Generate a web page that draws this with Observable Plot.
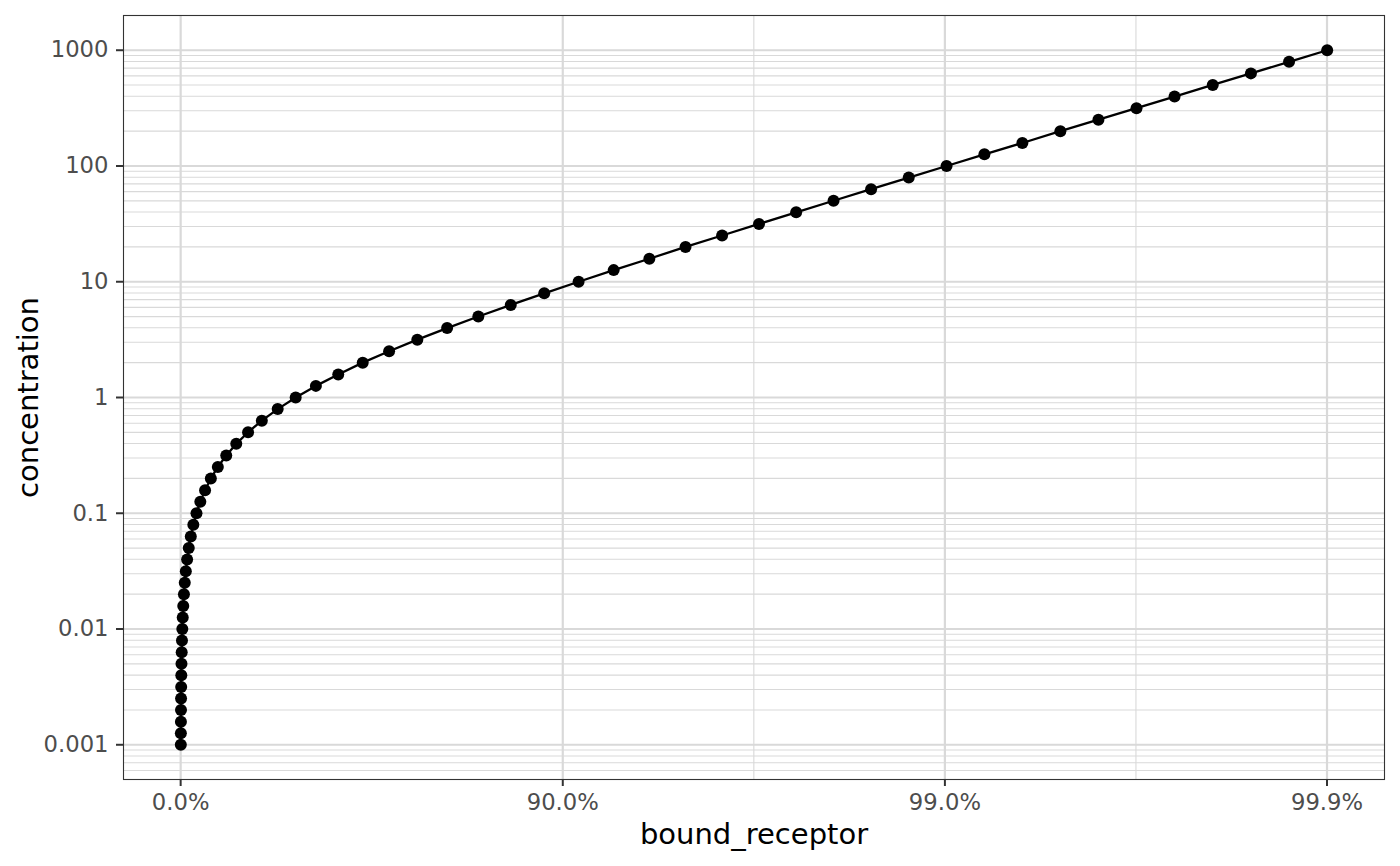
<!DOCTYPE html>
<html>
<head>
<meta charset="utf-8">
<script src="https://cdn.jsdelivr.net/npm/d3@7"></script>
<script src="https://cdn.jsdelivr.net/npm/@observablehq/plot@0.6"></script>
<style>
  body { margin: 0; background: #ffffff; }
  #chart { width: 1400px; height: 866px; }
</style>
</head>
<body>
<div id="chart"></div>
<script>
/* global d3, Plot */

// concentration steps (log spaced, 10 per decade)
const concentration = [
  0.001, 0.00126, 0.00158, 0.002, 0.00251, 0.00316, 0.00398, 0.00501, 0.00631, 0.00794,
  0.01, 0.0126, 0.0158, 0.02, 0.0251, 0.0316, 0.0398, 0.0501, 0.0631, 0.0794,
  0.1, 0.126, 0.158, 0.2, 0.251, 0.316, 0.398, 0.501, 0.631, 0.794,
  1, 1.26, 1.58, 2, 2.51, 3.16, 3.98, 5.01, 6.31, 7.94,
  10, 12.6, 15.8, 20, 25.1, 31.6, 39.8, 50.1, 63.1, 79.4,
  100, 126, 158, 200, 251, 316, 398, 501, 631, 794,
  1000
];

// fraction of bound receptor at each concentration
const boundReceptor = [
  0.000999, 0.001257, 0.001582, 0.001991, 0.002506, 0.003152, 0.003965, 0.004987, 0.006270, 0.007881,
  0.009901, 0.012433, 0.015602, 0.019562, 0.024503, 0.030654, 0.038287, 0.047727, 0.059351, 0.073588,
  0.090909, 0.111816, 0.136807, 0.166338, 0.200759, 0.240253, 0.284744, 0.333860, 0.386863, 0.442688,
  0.5, 0.557312, 0.613137, 0.666140, 0.715256, 0.759747, 0.799241, 0.833662, 0.863193, 0.888184,
  0.909091, 0.926412, 0.940649, 0.952273, 0.961713, 0.969346, 0.975497, 0.980438, 0.984398, 0.987567,
  0.990099, 0.992119, 0.993730, 0.995013, 0.996035, 0.996848, 0.997494, 0.998009, 0.998418, 0.998743,
  0.999001
];

// axis breaks and their labels
const xTickValues = [0, 0.9, 0.99, 0.999];
const xTickLabels = ['0.0%', '90.0%', '99.0%', '99.9%'];
const yTickValues = [0.001, 0.01, 0.1, 1, 10, 100, 1000];
const yTickLabels = ['0.001', '0.01', '0.1', '1', '10', '100', '1000'];

// occupancy axis: -log10(1 - p), so 90%, 99%, 99.9% are evenly spaced
const occ = p => -Math.log10(1 - p);

const table = concentration.map((c, i) => ({ concentration: c, bound: boundReceptor[i] }));

// ggplot-style 5% expansion of the data range
const xExt = d3.extent(boundReceptor, occ);
const xPad = (xExt[1] - xExt[0]) * 0.05;
const yExt = d3.extent(concentration, Math.log10);
const yPad = (yExt[1] - yExt[0]) * 0.05;

const xTicks = xTickValues.map(occ);
const xMinor = [1.5, 2.5];
const yMinor = [];
for (let e = -4; e <= 3; e++) {
  for (let m = 2; m <= 9; m++) {
    const v = m * Math.pow(10, e);
    if (Math.log10(v) > yExt[0] - yPad && Math.log10(v) < yExt[1] + yPad) yMinor.push(v);
  }
}

const gridColor = '#d9d9d9';

const chart = Plot.plot({
  width: 1400,
  height: 866,
  marginLeft: 123,
  marginRight: 16,
  marginTop: 15,
  marginBottom: 87,
  style: { fontFamily: 'DejaVu Sans', background: '#ffffff' },
  x: { type: 'linear', domain: [xExt[0] - xPad, xExt[1] + xPad] },
  y: { type: 'log', domain: [Math.pow(10, yExt[0] - yPad), Math.pow(10, yExt[1] + yPad)] },
  marks: [
    Plot.ruleY(yMinor, { stroke: gridColor, strokeWidth: 1.1 }),
    Plot.ruleX(xMinor, { stroke: gridColor, strokeWidth: 1.1 }),
    Plot.ruleY(yTickValues, { stroke: gridColor, strokeWidth: 2.2 }),
    Plot.ruleX(xTicks, { stroke: gridColor, strokeWidth: 2.2 }),
    Plot.line(table, { x: d => occ(d.bound), y: 'concentration', stroke: 'black', strokeWidth: 2.3 }),
    Plot.dot(table, { x: d => occ(d.bound), y: 'concentration', r: 6, fill: 'black', stroke: 'none' }),
    Plot.frame({ stroke: '#333333', strokeWidth: 1.1 }),
    Plot.axisX(xTicks, {
      tickFormat: d => xTickLabels[xTicks.indexOf(d)],
      tickSize: 7, tickPadding: 7, strokeWidth: 2, stroke: '#333333', fill: '#4d4d4d',
      fontSize: 22.7, label: null
    }),
    Plot.axisY(yTickValues, {
      tickFormat: d => yTickLabels[yTickValues.indexOf(d)],
      tickSize: 7, tickPadding: 8, strokeWidth: 2, stroke: '#333333', fill: '#4d4d4d',
      fontSize: 22.7, label: null
    }),
    Plot.text(['bound_receptor'], {
      frameAnchor: 'bottom', dy: 55, fontSize: 29, fill: 'black',
      textAnchor: 'middle', lineAnchor: 'middle'
    }),
    Plot.text(['concentration'], {
      frameAnchor: 'left', dx: -95, rotate: -90, fontSize: 29, fill: 'black',
      textAnchor: 'middle', lineAnchor: 'middle'
    })
  ]
});

document.getElementById('chart').append(chart);
</script>
</body>
</html>
